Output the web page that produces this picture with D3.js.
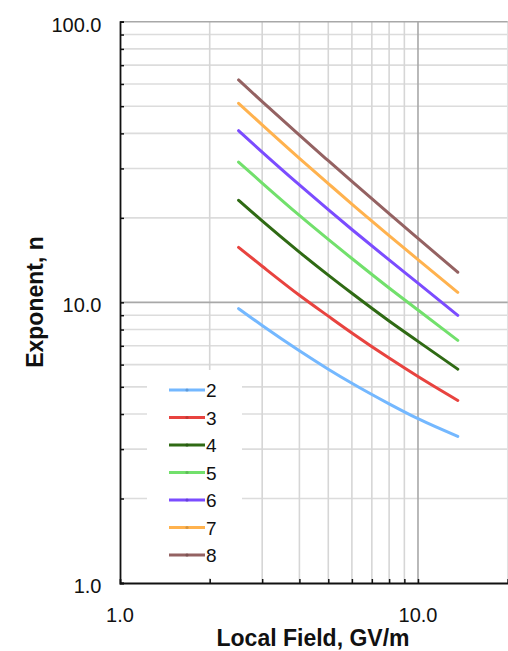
<!DOCTYPE html>
<html>
<head>
<meta charset="utf-8">
<script src="https://cdn.jsdelivr.net/npm/d3@7"></script>
<style>
    body { margin: 0; background: #fff; }
    text { font-family: "Liberation Sans", Arial, sans-serif; fill: #111; }
</style>
</head>
<body>
<svg id="chart" width="508" height="651"></svg>
<script>
'use strict';

// ##################################################
// #  Data                                          #
// ##################################################

const localField = [2.5, 3, 4, 5, 6, 8, 10, 13.6];

const exponent2 = [9.5, 8.27, 6.72, 5.78, 5.15, 4.35, 3.85, 3.33];
const exponent3 = [15.7, 13.45, 10.6, 8.93, 7.78, 6.33, 5.44, 4.47];
const exponent4 = [23.1, 19.5, 15.1, 12.5, 10.77, 8.58, 7.26, 5.78];
const exponent5 = [31.6, 26.6, 20.4, 16.76, 14.33, 11.25, 9.39, 7.32];
const exponent6 = [40.9, 34.3, 26.2, 21.38, 18.18, 14.16, 11.71, 8.99];
const exponent7 = [51.2, 42.9, 32.6, 26.5, 22.4, 17.3, 14.2, 10.85];
const exponent8 = [62.0, 51.9, 39.4, 31.96, 26.97, 20.7, 16.9, 12.8];

const seriesNames = ['2', '3', '4', '5', '6', '7', '8'];
const seriesValues = [exponent2, exponent3, exponent4, exponent5, exponent6, exponent7, exponent8];
const seriesColors = ['#74b8ff', '#e8433f', '#2f6a14', '#72e06c', '#7b4cff', '#ffb24e', '#946262'];

const xTickLabels = [1, 10];
const yTickLabels = [1, 10, 100];

// ##################################################
// #  Chart                                         #
// ##################################################

let svg = d3.select('#chart');

let x = d3.scaleLog([1, 20], [120, 507.7]);
let y = d3.scaleLog([1, 100], [583, 21.7]);

let xMinor = d3.range(2, 10);
let yMinor = d3.range(2, 10).concat(d3.range(20, 100, 10));

// grid
let grid = svg.append('g');
grid.selectAll('.hgrid')
    .data(yMinor)
    .enter()
    .append('line')
    .attr('x1', x(1)).attr('x2', x(20))
    .attr('y1', d => y(d)).attr('y2', d => y(d))
    .attr('stroke', '#dcdcdc')
    .attr('stroke-width', 1.6);
grid.selectAll('.vgrid')
    .data(xMinor)
    .enter()
    .append('line')
    .attr('x1', d => x(d)).attr('x2', d => x(d))
    .attr('y1', y(1)).attr('y2', y(100))
    .attr('stroke', '#d6d6d6')
    .attr('stroke-width', 1.6);
grid.append('line')
    .attr('x1', x(20)).attr('x2', x(20))
    .attr('y1', y(1)).attr('y2', y(100))
    .attr('stroke', '#e2e2e2')
    .attr('stroke-width', 1.5);
grid.selectAll('.major-h')
    .data([10, 100])
    .enter()
    .append('line')
    .attr('x1', x(1)).attr('x2', x(20))
    .attr('y1', d => y(d)).attr('y2', d => y(d))
    .attr('stroke', '#a8a8a8')
    .attr('stroke-width', 1.6);
grid.append('line')
    .attr('x1', x(10)).attr('x2', x(10))
    .attr('y1', y(1)).attr('y2', y(100))
    .attr('stroke', '#a8a8a8')
    .attr('stroke-width', 1.6);

// series
let line = d3.line()
    .x((d, i) => x(localField[i]))
    .y(d => y(d))
    .curve(d3.curveMonotoneX);

svg.append('g')
    .selectAll('path')
    .data(seriesValues)
    .enter()
    .append('path')
    .attr('d', line)
    .attr('fill', 'none')
    .attr('stroke', (d, i) => seriesColors[i])
    .attr('stroke-width', 3)
    .attr('stroke-linecap', 'round');

// legend (white box hides the grid behind it)
let legend = svg.append('g');
legend.append('rect')
    .attr('x', 147).attr('y', 370)
    .attr('width', 95).attr('height', 208)
    .attr('fill', '#fff');
let items = legend.selectAll('.item')
    .data(seriesNames)
    .enter()
    .append('g')
    .attr('transform', (d, i) => 'translate(0,' + (390 + i * 27.5) + ')');
items.append('line')
    .attr('x1', 169).attr('x2', 205)
    .attr('y1', 0).attr('y2', 0)
    .attr('stroke', (d, i) => seriesColors[i])
    .attr('stroke-width', 3);
items.append('circle')
    .attr('cx', 187).attr('cy', 0).attr('r', 1.6)
    .attr('fill', (d, i) => d3.color(seriesColors[i]).darker(0.5));
items.append('text')
    .attr('x', 206).attr('y', 7)
    .style('font-size', '19px')
    .text(d => d);

// axes, ticks pointing inward
let yAxis = d3.axisRight(y)
    .tickValues([1, 10, 100].concat(yMinor))
    .tickSize(4)
    .tickFormat('');
svg.append('g')
    .attr('transform', 'translate(' + x(1) + ',0)')
    .call(yAxis)
    .call(g => g.select('.domain').attr('stroke', '#111').attr('stroke-width', 1.8))
    .call(g => g.selectAll('.tick line').attr('stroke', '#111').attr('stroke-width', 1.5));

let xAxis = d3.axisTop(x)
    .tickValues(xMinor.concat([10]))
    .tickSize(4)
    .tickFormat('');
svg.append('g')
    .attr('transform', 'translate(0,' + y(1) + ')')
    .call(xAxis)
    .call(g => g.select('.domain').attr('stroke', '#111').attr('stroke-width', 1.8))
    .call(g => g.selectAll('.tick line').attr('stroke', '#111').attr('stroke-width', 1.5));

// tick labels
svg.append('g')
    .selectAll('text')
    .data(yTickLabels)
    .enter()
    .append('text')
    .attr('x', 101.5)
    .attr('y', d => y(d) + 10)
    .attr('text-anchor', 'end')
    .style('font-size', '20px')
    .text(d => d3.format('.1f')(d));

svg.append('g')
    .selectAll('text')
    .data(xTickLabels)
    .enter()
    .append('text')
    .attr('x', d => x(d))
    .attr('y', 621.5)
    .attr('text-anchor', 'middle')
    .style('font-size', '20px')
    .text(d => d3.format('.1f')(d));

// axis titles
svg.append('text')
    .attr('x', 313)
    .attr('y', 645.5)
    .attr('text-anchor', 'middle')
    .style('font-size', '23px')
    .style('font-weight', 'bold')
    .text('Local Field, GV/m');

svg.append('text')
    .attr('transform', 'translate(43,302) rotate(-90)')
    .attr('text-anchor', 'middle')
    .style('font-size', '23px')
    .style('font-weight', 'bold')
    .text('Exponent, n');
</script>
</body>
</html>
